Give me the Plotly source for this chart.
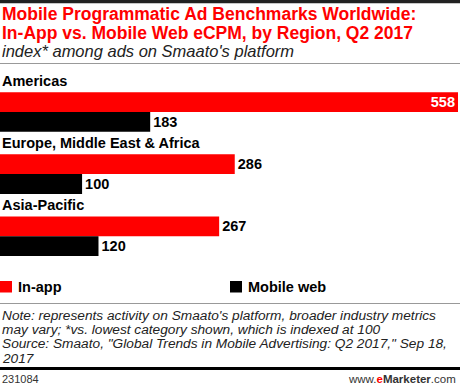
import plotly.graph_objects as go

regions = ["Americas", "Europe, Middle East & Africa", "Asia-Pacific"]
in_app = [558, 286, 267]
mobile_web = [183, 100, 120]
series_names = ["In-app", "Mobile web"]

title_lines = ["Mobile Programmatic Ad Benchmarks Worldwide:",
               "In-App vs. Mobile Web eCPM, by Region, Q2 2017"]
subtitle = "index* among ads on Smaato's platform"
note_lines = [
    "Note: represents activity on Smaato's platform, broader industry metrics",
    "may vary; *vs. lowest category shown, which is indexed at 100",
    "Source: Smaato, \"Global Trends in Mobile Advertising: Q2 2017,\" Sep 18,",
    "2017",
]
chart_id = "231084"

RED = "#ff0000"
BLACK = "#000000"
FONT = "Liberation Sans"

W, H = 460, 385
MT, MB = 81, 108
PH = H - MT - MB


def yp(pix):
    return (H - MB - pix) / PH


fig = go.Figure()
fig.add_trace(go.Bar(
    y=regions, x=in_app, name=series_names[0], orientation="h",
    marker=dict(color=RED, line=dict(width=0)),
    text=[str(v) for v in in_app], texttemplate="%{text}",
    textposition=["inside", "outside", "outside"],
    insidetextanchor="end", constraintext="none",
    insidetextfont=dict(family=FONT, size=14.5, color="white", weight="bold"),
    outsidetextfont=dict(family=FONT, size=14.5, color="black", weight="bold"),
    cliponaxis=False, showlegend=False, hoverinfo="skip",
))
fig.add_trace(go.Bar(
    y=regions, x=mobile_web, name=series_names[1], orientation="h",
    marker=dict(color=BLACK, line=dict(width=0)),
    text=[str(v) for v in mobile_web], texttemplate="%{text}",
    textposition="outside", constraintext="none",
    outsidetextfont=dict(family=FONT, size=14.5, color="black", weight="bold"),
    cliponaxis=False, showlegend=False, hoverinfo="skip",
))

annotations = []
# title
for i, line in enumerate(title_lines):
    annotations.append(dict(
        text="<b>%s</b>" % line, x=0, y=yp([13.7, 32.5][i]), xref="paper", yref="paper",
        xanchor="left", yanchor="middle", showarrow=False,
        font=dict(family=FONT, size=17.5, color=RED)))
annotations.append(dict(
    text="<i>%s</i>" % subtitle, x=0, y=yp(51), xref="paper", yref="paper",
    xanchor="left", yanchor="middle", showarrow=False,
    font=dict(family=FONT, size=16.5, color="#222222")))
# region labels
for r in regions:
    annotations.append(dict(
        text="<b>%s</b>" % r, x=0, y=r, xref="paper", yref="y",
        xanchor="left", yanchor="middle", yshift=30.8, showarrow=False,
        font=dict(family=FONT, size=14.5, color="black")))
# legend
leg_y = 286.7
for name, color, x0 in [(series_names[0], RED, 0), (series_names[1], BLACK, 230)]:
    annotations.append(dict(
        text="<b>%s</b>" % name, x=(x0 + 16) / W, y=yp(leg_y), xref="paper", yref="paper",
        xanchor="left", yanchor="middle", showarrow=False,
        font=dict(family=FONT, size=14.5, color="black")))
# notes
for i, line in enumerate(note_lines):
    annotations.append(dict(
        text="<i>%s</i>" % line, x=0, y=yp(315.5 + i * 14.2), xref="paper", yref="paper",
        xanchor="left", yanchor="middle", showarrow=False,
        font=dict(family=FONT, size=13.7, color="#222222")))
# footer
annotations.append(dict(
    text=chart_id, x=0, y=yp(378.5), xref="paper", yref="paper",
    xanchor="left", yanchor="middle", showarrow=False,
    font=dict(family=FONT, size=11, color="#333333")))
annotations.append(dict(
    text="www.<b><span style='color:#ff0000'>e</span>Marketer</b>.com", x=458 / W, y=yp(378.5),
    xref="paper", yref="paper", xanchor="right", yanchor="middle", showarrow=False,
    font=dict(family=FONT, size=11.5, color="#333333")))

shapes = [
    dict(type="rect", xref="paper", yref="paper", x0=0, x1=1, y0=yp(3.2), y1=yp(0),
         fillcolor="#222222", line=dict(width=0)),
    dict(type="line", xref="paper", yref="paper", x0=0, x1=1, y0=yp(63.5), y1=yp(63.5),
         line=dict(color="#999999", width=1)),
    dict(type="line", xref="paper", yref="paper", x0=0, x1=1, y0=yp(303.5), y1=yp(303.5),
         line=dict(color="#999999", width=1)),
    dict(type="rect", xref="paper", yref="paper", x0=0, x1=1, y0=yp(370), y1=yp(367),
         fillcolor="#000000", line=dict(width=0)),
    dict(type="rect", xref="paper", yref="paper", x0=0, x1=12 / W, y0=yp(292.5), y1=yp(281),
         fillcolor=RED, line=dict(width=0)),
    dict(type="rect", xref="paper", yref="paper", x0=230 / W, x1=242 / W, y0=yp(292.5), y1=yp(281),
         fillcolor=BLACK, line=dict(width=0)),
]

fig.update_layout(
    width=W, height=H,
    margin=dict(l=0, r=0, t=MT, b=MB, pad=0),
    paper_bgcolor="white", plot_bgcolor="white",
    barmode="group", bargap=0.363, bargroupgap=0,
    xaxis=dict(range=[0, max(in_app) * 460 / 458], visible=False, fixedrange=True),
    yaxis=dict(categoryorder="array", categoryarray=regions, autorange="reversed",
               visible=False, fixedrange=True),
    annotations=annotations, shapes=shapes,
    font=dict(family=FONT),
)

fig.write_html(
    "out.html",
    config={"displayModeBar": False},
    post_script="document.body.style.margin='0';document.body.style.overflow='hidden';",
)
